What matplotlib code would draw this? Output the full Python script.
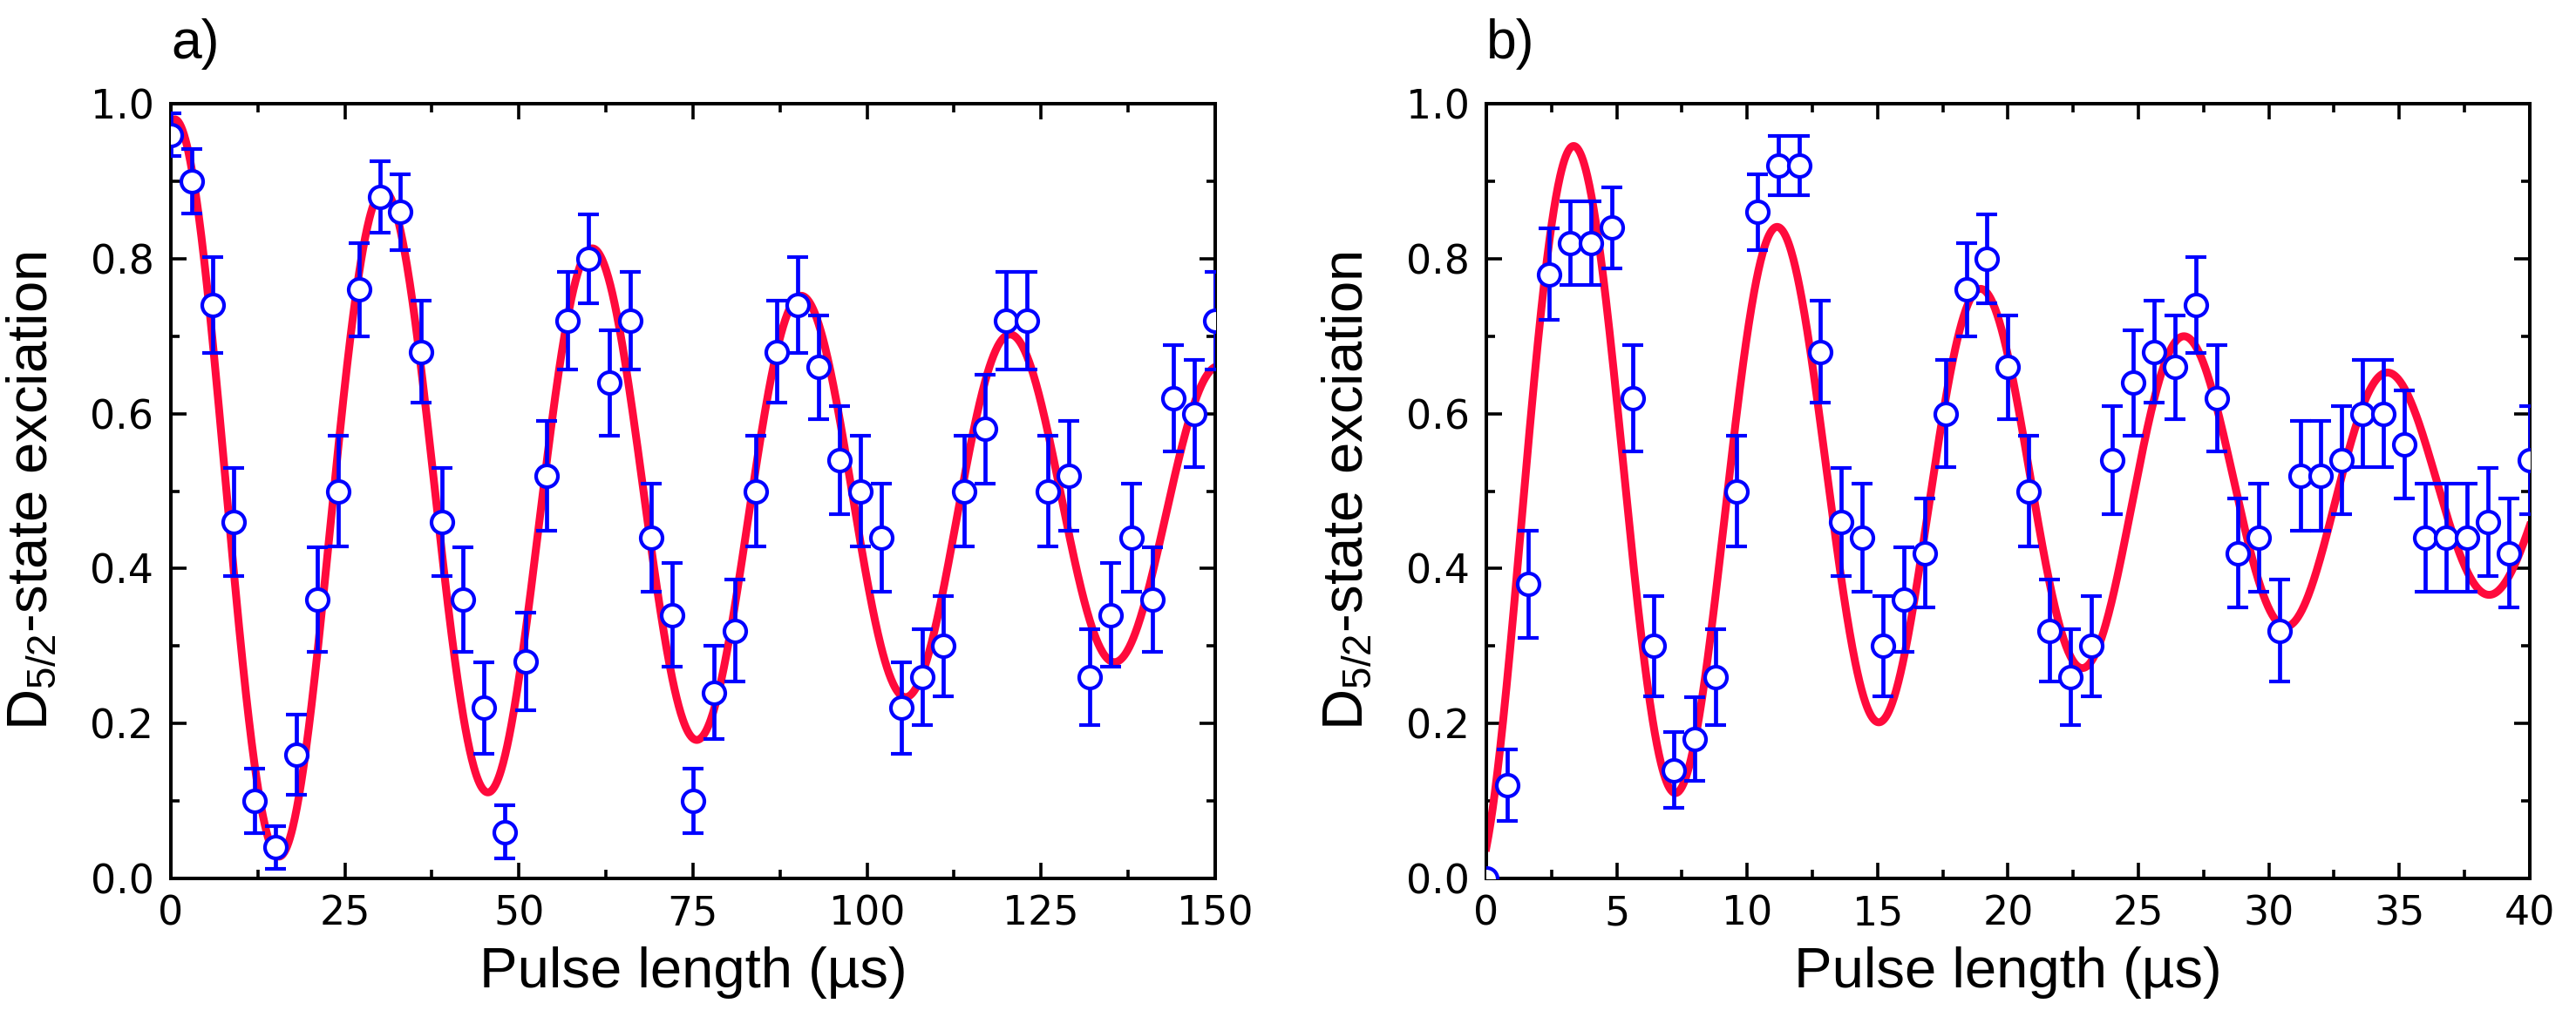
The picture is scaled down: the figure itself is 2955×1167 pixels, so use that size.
import numpy as np
import matplotlib
matplotlib.use("Agg")
import matplotlib.pyplot as plt
from matplotlib.ticker import MultipleLocator, FormatStrFormatter

# ---------------- data: panel a ----------------
t_a = [0, 3, 6, 9, 12, 15, 18, 21, 24, 27, 30, 33, 36, 39, 42, 45, 48, 51, 54, 57,
       60, 63, 66, 69, 72, 75, 78, 81, 84, 87, 90, 93, 96, 99, 102, 105, 108, 111,
       114, 117, 120, 123, 126, 129, 132, 135, 138, 141, 144, 147, 150]
p_a = [0.96, 0.90, 0.74, 0.46, 0.10, 0.04, 0.16, 0.36, 0.50, 0.76, 0.88, 0.86, 0.68,
       0.46, 0.36, 0.22, 0.06, 0.28, 0.52, 0.72, 0.80, 0.64, 0.72, 0.44, 0.34, 0.10,
       0.24, 0.32, 0.50, 0.68, 0.74, 0.66, 0.54, 0.50, 0.44, 0.22, 0.26, 0.30, 0.50,
       0.58, 0.72, 0.72, 0.50, 0.52, 0.26, 0.34, 0.44, 0.36, 0.62, 0.60, 0.72]
err_a = [0.028, 0.042, 0.062, 0.070, 0.042, 0.028, 0.052, 0.068, 0.071, 0.060, 0.046,
         0.049, 0.066, 0.070, 0.068, 0.059, 0.034, 0.063, 0.071, 0.063, 0.057, 0.068,
         0.063, 0.070, 0.067, 0.042, 0.060, 0.066, 0.071, 0.066, 0.062, 0.067, 0.070,
         0.071, 0.070, 0.059, 0.062, 0.065, 0.071, 0.070, 0.063, 0.063, 0.071, 0.071,
         0.062, 0.067, 0.070, 0.068, 0.069, 0.069, 0.063]

# ---------------- data: panel b ----------------
t_b = [0.0, 0.8, 1.6, 2.4, 3.2, 4.0, 4.8, 5.6, 6.4, 7.2, 8.0, 8.8, 9.6, 10.4, 11.2,
       12.0, 12.8, 13.6, 14.4, 15.2, 16.0, 16.8, 17.6, 18.4, 19.2, 20.0, 20.8, 21.6,
       22.4, 23.2, 24.0, 24.8, 25.6, 26.4, 27.2, 28.0, 28.8, 29.6, 30.4, 31.2, 32.0,
       32.8, 33.6, 34.4, 35.2, 36.0, 36.8, 37.6, 38.4, 39.2, 40.0]
p_b = [0.00, 0.12, 0.38, 0.78, 0.82, 0.82, 0.84, 0.62, 0.30, 0.14, 0.18, 0.26, 0.50,
       0.86, 0.92, 0.92, 0.68, 0.46, 0.44, 0.30, 0.36, 0.42, 0.60, 0.76, 0.80, 0.66,
       0.50, 0.32, 0.26, 0.30, 0.54, 0.64, 0.68, 0.66, 0.74, 0.62, 0.42, 0.44, 0.32,
       0.52, 0.52, 0.54, 0.60, 0.60, 0.56, 0.44, 0.44, 0.44, 0.46, 0.42, 0.54]
err_b = [0.000, 0.046, 0.069, 0.059, 0.054, 0.054, 0.052, 0.069, 0.065, 0.049, 0.054,
         0.062, 0.071, 0.049, 0.038, 0.038, 0.066, 0.070, 0.070, 0.065, 0.068, 0.070,
         0.069, 0.060, 0.057, 0.067, 0.071, 0.066, 0.062, 0.065, 0.070, 0.068, 0.066,
         0.067, 0.062, 0.069, 0.070, 0.070, 0.066, 0.071, 0.071, 0.070, 0.069, 0.069,
         0.070, 0.070, 0.070, 0.070, 0.070, 0.070, 0.070]

# ---------------- fit-curve parameters (damped Rabi oscillation) ----------------
fit_a = dict(offset=0.48, amp=0.502, tau=148.0, period=30.0, t0=0.7, sign=+1)
fit_b = dict(offset=0.50, amp=0.500, tau=29.2, period=7.8, t0=-0.5, sign=-1)

xlim_a = (0, 150)
xlim_b = (0, 40)

# ---------------- style ----------------
plt.rcParams['font.family'] = ['Liberation Sans', 'DejaVu Sans']
plt.rcParams['mathtext.fontset'] = 'custom'
plt.rcParams['mathtext.rm'] = 'Liberation Sans'
plt.rcParams['mathtext.it'] = 'Liberation Sans:italic'

RED = '#ff0a3c'
BLUE = '#0000ff'
TICK_FS = 33
LABEL_FS = 47
PANEL_FS = 45


def fit_curve(t, offset, amp, tau, period, t0, sign):
    return offset + sign * amp * np.exp(-t / tau) * np.cos(2 * np.pi * (t - t0) / period)


fig = plt.figure(figsize=(29.55, 11.67), dpi=100)
ax_a = fig.add_axes([0.0663, 0.1362, 0.4054, 0.7618])
ax_b = fig.add_axes([0.5770, 0.1362, 0.4050, 0.7618])

panels = [
    (ax_a, t_a, p_a, err_a, fit_a, xlim_a, 25, 12.5, 'a)'),
    (ax_b, t_b, p_b, err_b, fit_b, xlim_b, 5, 2.5, 'b)'),
]

for ax, t, p, e, fit, xlim, xmaj, xmin, tag in panels:
    tt = np.linspace(xlim[0], xlim[1], 1500)
    ax.plot(tt, fit_curve(tt, **fit), color=RED, lw=6.5, zorder=2)
    ax.errorbar(t, p, yerr=e, fmt='o', ms=18, mfc='white', mec=BLUE, mew=3.0,
                ecolor=BLUE, elinewidth=3.4, capsize=8.5, capthick=3.4, zorder=3)
    ax.set_xlim(*xlim)
    ax.set_ylim(0, 1.0)
    ax.xaxis.set_major_locator(MultipleLocator(xmaj))
    ax.xaxis.set_minor_locator(MultipleLocator(xmin))
    ax.yaxis.set_major_locator(MultipleLocator(0.2))
    ax.yaxis.set_minor_locator(MultipleLocator(0.1))
    ax.yaxis.set_major_formatter(FormatStrFormatter('%.1f'))
    ax.xaxis.set_major_formatter(FormatStrFormatter('%d'))
    ax.tick_params(which='both', direction='in', top=True, right=True,
                   width=2.6, colors='black', labelfontfamily='DejaVu Sans')
    ax.tick_params(which='major', length=13)
    ax.tick_params(which='minor', length=7)
    ax.tick_params(axis='y', which='major', labelsize=TICK_FS, pad=14)
    ax.tick_params(axis='x', which='major', labelsize=TICK_FS, pad=13)
    for s in ax.spines.values():
        s.set_linewidth(2.9)
    ax.set_xlabel('Pulse length (\u00b5s)', fontsize=LABEL_FS)
    ax.set_ylabel(r'D$_{\mathit{5/2}}$-state exciation', fontsize=LABEL_FS)
    ax.xaxis.set_label_coords(0.5, -0.088)
    ax.yaxis.set_label_coords(-0.108, 0.5)
    ax.text(0.0, 1.058, tag, transform=ax.transAxes, fontsize=PANEL_FS,
            ha='left', va='baseline')

fig.savefig('out.png', dpi=100)
